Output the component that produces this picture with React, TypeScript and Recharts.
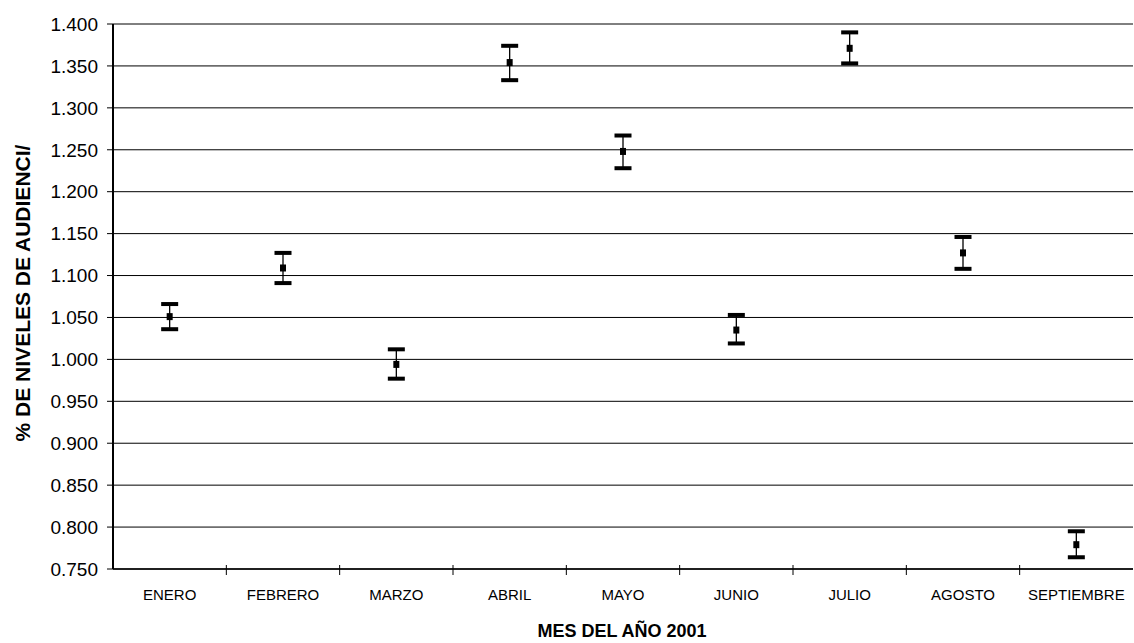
import React from "react";
import { ComposedChart, Scatter, XAxis, YAxis, CartesianGrid, ErrorBar, Label } from "recharts";

const meses = ["ENERO", "FEBRERO", "MARZO", "ABRIL", "MAYO", "JUNIO", "JULIO", "AGOSTO", "SEPTIEMBRE"];
const valores = [1.051, 1.109, 0.994, 1.354, 1.248, 1.035, 1.371, 1.127, 0.779];
const superiores = [1.066, 1.127, 1.012, 1.374, 1.267, 1.053, 1.39, 1.146, 0.795];
const inferiores = [1.036, 1.091, 0.977, 1.333, 1.228, 1.019, 1.353, 1.108, 0.764];
const yTicks = [0.75, 0.8, 0.85, 0.9, 0.95, 1.0, 1.05, 1.1, 1.15, 1.2, 1.25, 1.3, 1.35, 1.4];

const data = meses.map((mes, i) => ({
  mes,
  valor: valores[i],
  sup: superiores[i],
  inf: inferiores[i],
  err: [valores[i] - inferiores[i], superiores[i] - valores[i]],
}));

const FONT = "Arial, 'Liberation Sans', sans-serif";

const Marker = (props: any) => {
  const { cx, cy } = props;
  if (cx == null || cy == null) return null;
  return <rect x={cx - 3} y={cy - 3.5} width={6} height={7} fill="#000" />;
};

const Cap = (props: any) => {
  const { cx, cy } = props;
  if (cx == null || cy == null) return null;
  return <rect x={cx - 8.5} y={cy - 2} width={17} height={4} fill="#000" />;
};

const XTick = (props: any) => {
  const { x, y, payload, index, width } = props;
  const half = width / (meses.length * 2);
  return (
    <g>
      {index > 0 && <line x1={x - half} x2={x - half} y1={y - 4} y2={y + 6} stroke="#000" strokeWidth={1} />}
      <text x={x} y={y + 31} textAnchor="middle" fontFamily={FONT} fontSize={15} fill="#000">
        {payload.value}
      </text>
    </g>
  );
};

export default function App() {
  return (
    <div style={{ position: "absolute", left: 0, top: 0, width: 1134, height: 643, background: "#fff" }}>
      <ComposedChart width={1134} height={643} data={data} margin={{ top: 24, right: 1, bottom: 0, left: 0 }}>
        <CartesianGrid vertical={false} horizontal stroke="#000" strokeWidth={1} />
        <XAxis
          dataKey="mes"
          type="category"
          scale="band"
          height={74}
          tickSize={0}
          tickMargin={0}
          tickLine={false}
          axisLine={{ stroke: "#000", strokeWidth: 1.5 }}
          tick={<XTick />}
          interval={0}
        >
          <Label
            content={() => (
              <text x={622} y={637} textAnchor="middle" fontFamily={FONT} fontSize={18} fontWeight="bold" fill="#000">
                MES DEL AÑO 2001
              </text>
            )}
          />
        </XAxis>
        <YAxis
          type="number"
          domain={[0.75, 1.4]}
          ticks={yTicks}
          width={113}
          tickSize={6}
          tickMargin={9}
          interval={0}
          allowDataOverflow
          tickFormatter={(v: number) => v.toFixed(3)}
          tick={{ fill: "#000", fontFamily: FONT, fontSize: 19 }}
          tickLine={{ stroke: "#000" }}
          axisLine={{ stroke: "#000", strokeWidth: 2 }}
        >
          <Label
            content={() => (
              <text
                x={22}
                y={293}
                transform="rotate(-90 22 293)"
                textAnchor="middle"
                dominantBaseline="central"
                fontFamily={FONT}
                fontSize={21}
                fontWeight="bold"
                fill="#000"
              >
                % DE NIVELES DE AUDIENCI/
              </text>
            )}
          />
        </YAxis>
        <YAxis
          yAxisId="borde"
          orientation="right"
          type="number"
          domain={[0.75, 1.4]}
          width={0}
          tick={false}
          tickLine={false}
          axisLine={{ stroke: "#000", strokeWidth: 1 }}
        />
        <Scatter dataKey="sup" fill="#000" shape={<Cap />} isAnimationActive={false} />
        <Scatter dataKey="inf" fill="#000" shape={<Cap />} isAnimationActive={false} />
        <Scatter dataKey="valor" fill="#000" shape={<Marker />} isAnimationActive={false}>
          <ErrorBar dataKey="err" direction="y" width={0} stroke="#000" strokeWidth={1.3} />
        </Scatter>
      </ComposedChart>
    </div>
  );
}
